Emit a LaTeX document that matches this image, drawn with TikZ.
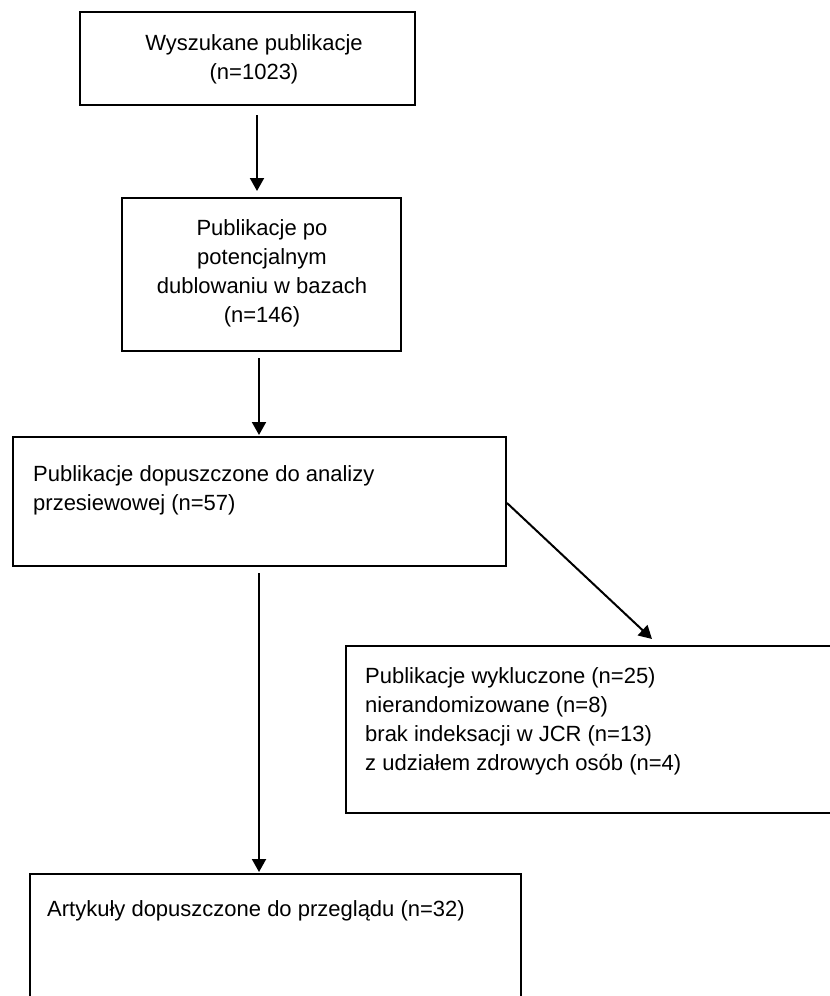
\documentclass[tikz,border=0pt]{standalone}
\usepackage{fontspec}
\setmainfont{Liberation Sans}
\usetikzlibrary{arrows.meta}
\begin{document}
\begin{tikzpicture}[x=1pt,y=-1pt,
  box/.style={draw, line width=2pt, inner sep=0pt},
  txt/.style={inner sep=0pt, font=\fontsize{22}{29}\selectfont},
  arr/.style={line width=2pt, -{Triangle[length=13pt,width=14pt]}}]
\useasboundingbox (0,0) rectangle (830,996);
% boxes
\node[box, minimum width=335pt, minimum height=93pt] (b1) at (247.5,58) {};
\node[box, minimum width=279pt, minimum height=153pt] (b2) at (261.5,274.5) {};
\node[box, minimum width=493pt, minimum height=129pt] (b3) at (259.5,501.5) {};
\node[box, minimum width=504pt, minimum height=167pt] (b4) at (598,729.5) {};
\node[box, minimum width=491pt, minimum height=142pt] (b5) at (275.5,945) {};
% texts (base anchor = last line baseline)
\node[txt, align=center, anchor=base] (t1) at (254,79) {Wyszukane publikacje\\(n=1023)};
\node[txt, align=center, anchor=base] (t2) at (262,322) {Publikacje po\\potencjalnym\\dublowaniu w bazach\\(n=146)};
\node[txt, align=left, anchor=base west] (t3) at (33,510) {Publikacje dopuszczone do analizy\\przesiewowej (n=57)};
\node[txt, align=left, anchor=base west] (t4) at (365,770) {Publikacje wykluczone (n=25)\\nierandomizowane (n=8)\\brak indeksacji w JCR (n=13)\\z udziałem zdrowych osób (n=4)};
\node[txt, anchor=base west] (t5) at (47,916) {Artykuły dopuszczone do przeglądu (n=32)};
% arrows
\draw[arr] ([shift={(9.5pt,-9.5pt)}]b1.south) -- ([shift={(-4.5pt,6pt)}]b2.north);
\draw[arr] ([shift={(-2.5pt,-6pt)}]b2.south) -- ([shift={(-0.5pt,1pt)}]b3.north);
\draw[arr] ([shift={(-0.5pt,-6pt)}]b3.south) -- ([shift={(-16.5pt,1pt)}]b5.north);
\draw[arr] ([yshift=-1.5pt]b3.east) -- ([shift={(54pt,6pt)}]b4.north);
\end{tikzpicture}
\end{document}
